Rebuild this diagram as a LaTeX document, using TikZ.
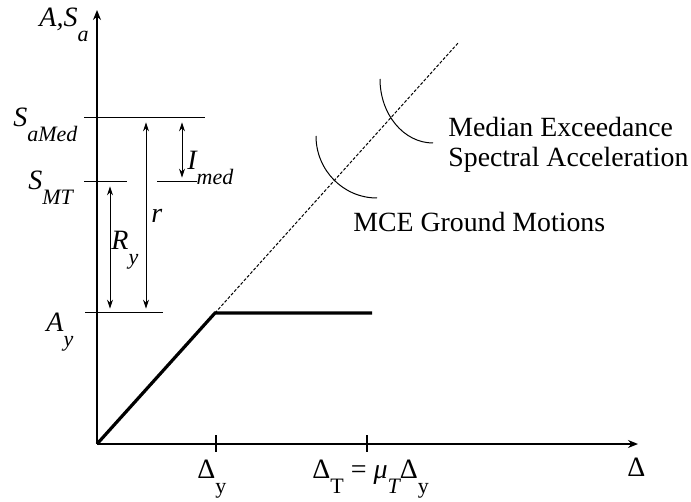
\documentclass[tikz,border=0pt]{standalone}
\usepackage{fontspec}
\setmainfont{Liberation Serif}
\usetikzlibrary{arrows.meta}
\newcommand{\lsub}[1]{\raisebox{-7.5pt}{\fontsize{11}{11}\selectfont #1}}
\begin{document}
\begin{tikzpicture}[x=0.5pt,y=-0.5pt,
  axisline/.style={line width=0.75pt,-{Stealth[length=5pt,width=4pt]}},
  dimarrow/.style={line width=0.5pt,{Stealth[length=4.5pt,width=3pt]}-{Stealth[length=4.5pt,width=3pt]},shorten <=2.2pt,shorten >=2.2pt},
  thinline/.style={line width=0.5pt},
  tickline/.style={line width=0.6pt},
  capcurve/.style={line width=1.6pt},
  dashline/.style={line width=0.5pt,dash pattern=on 1.5pt off 0.9pt},
  lbl/.style={anchor=base west,inner sep=0pt,font=\fontsize{14}{16}\selectfont},
  txt/.style={anchor=base west,inner sep=0pt,font=\fontsize{13.9}{16}\selectfont}]
\useasboundingbox (0,0) rectangle (691,502);
% key points
\coordinate (O) at (97,444);
\coordinate (Ytop) at (97,10);
\coordinate (Xend) at (638,444);
\coordinate (Yld) at (215,313);
\coordinate (Pend) at (372,313);
\coordinate (Dend) at (459,42);
% axes
\draw[axisline] (O) -- (Ytop);
\draw[axisline] (O) -- (Xend);
% level lines
\coordinate (Med1) at (84,118); \coordinate (Med2) at (205,118);
\coordinate (MT1) at (84,182); \coordinate (MT2) at (127,182);
\coordinate (MT3) at (157,182); \coordinate (MT4) at (197,182);
\coordinate (Ay1) at (85,313); \coordinate (Ay2) at (163,313);
\draw[thinline] (Med1) -- (Med2);
\draw[thinline] (MT1) -- (MT2);
\draw[thinline] (MT3) -- (MT4);
\draw[thinline] (Ay1) -- (Ay2);
% ticks
\coordinate (T1a) at (216,435); \coordinate (T1b) at (216,452);
\coordinate (T2a) at (367,435); \coordinate (T2b) at (367,452);
\draw[tickline] (T1a) -- (T1b);
\draw[tickline] (T2a) -- (T2b);
% dimension arrows
\coordinate (Ia) at (182,118); \coordinate (Ib) at (182,182);
\coordinate (Ra) at (146,118); \coordinate (Rb) at (146,313);
\coordinate (Ya) at (110,182); \coordinate (Yb) at (110,313);
\draw[dimarrow] (Ia) -- (Ib);
\draw[dimarrow] (Ra) -- (Rb);
\draw[dimarrow] (Ya) -- (Yb);
% capacity curve
\draw[capcurve,line join=miter] (O) -- (Yld) -- (Pend);
\draw[dashline] (Yld) -- (Dend);
% arcs
\coordinate (A1s) at (380,79); \coordinate (A1e) at (433,143);
\coordinate (A2s) at (316,136); \coordinate (A2e) at (377,198);
\draw[thinline] (A1s) .. controls (380,114.3) and (403.7,143) .. (A1e);
\draw[thinline] (A2s) .. controls (316,170.2) and (343.3,198) .. (A2e);
% labels
\node[lbl] (lAS) at (39,27) {\itshape A,S\lsub{a}};
\node[lbl] (lSMed) at (13,127) {\itshape S\lsub{aMed}};
\node[lbl] (lSMT) at (28,190) {\itshape S\lsub{MT}};
\node[lbl] (lAy) at (46,332) {\itshape A\lsub{y}};
\node[lbl] (lI) at (187,170) {\itshape I\lsub{med}};
\node[lbl] (lr) at (151,223) {\itshape r};
\node[lbl] (lRy) at (111,250) {\itshape R\lsub{y}};
\node[lbl] (lDy) at (197,478) {Δ\lsub{y}};
\node[lbl] (lDT) at (312,478) {Δ\lsub{T} = \textit{μ}\lsub{\itshape T}Δ\lsub{y}};
\node[lbl] (lD) at (627,476) {Δ};
\node[txt] (tMed) at (448,137) {Median Exceedance};
\node[txt] (tSpec) at (448,167) {Spectral Acceleration};
\node[txt] (tMCE) at (353,232) {MCE Ground Motions};
\end{tikzpicture}
\end{document}
